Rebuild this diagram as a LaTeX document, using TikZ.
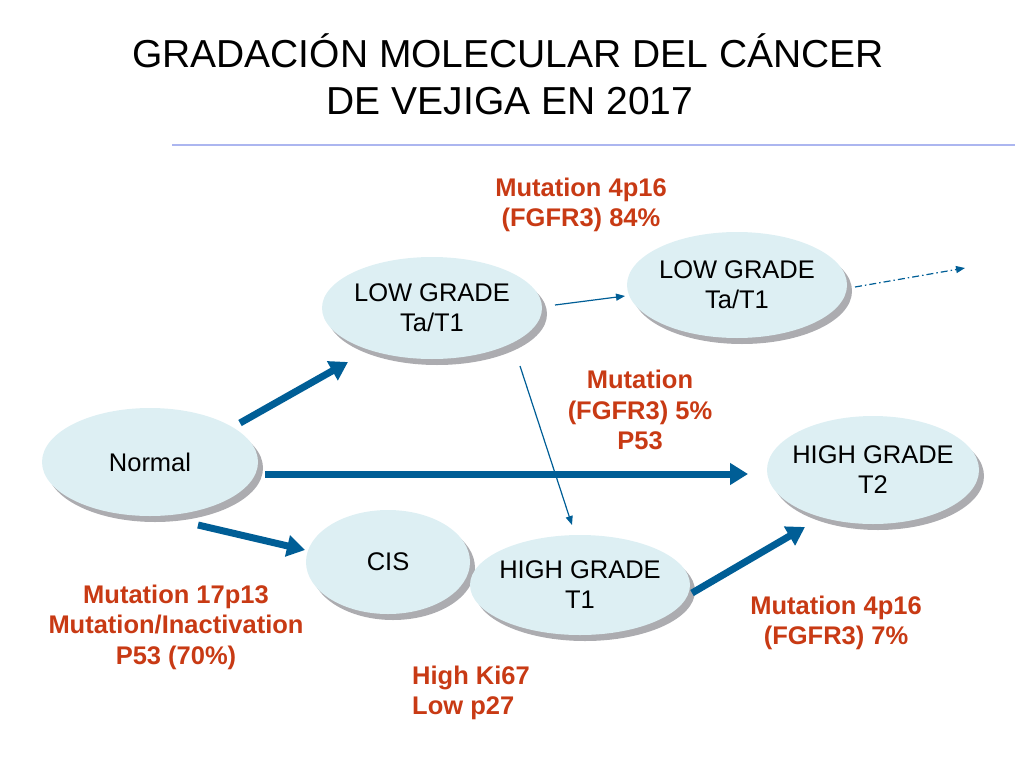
\documentclass[tikz,border=0pt]{standalone}
\usepackage{fontspec}
\setmainfont{Liberation Sans}
\usetikzlibrary{shapes.geometric,arrows.meta,shadows,calc}
\definecolor{ovalfill}{RGB}{221,239,243}
\definecolor{shadowgray}{RGB}{172,172,176}
\definecolor{arrowblue}{RGB}{0,94,150}
\definecolor{labelred}{RGB}{200,58,20}
\definecolor{rulecol}{RGB}{172,182,240}
\tikzset{
  oval/.style={ellipse, fill=ovalfill, inner xsep=-12pt, inner ysep=-4pt, align=center,
    font=\fontsize{25.5}{30}\selectfont,
    general shadow={fill=shadowgray, shadow xshift=5pt, shadow yshift=-6pt}},
  biglink/.style={draw=arrowblue, line width=7pt,
    -{Triangle[length=18pt,width=21pt]}},
  thinlink/.style={draw=arrowblue, line width=1.2pt,
    -{Triangle[length=9pt,width=7pt]}},
  dashlink/.style={thinlink, dash pattern=on 7pt off 3pt on 1.5pt off 3pt},
  redlabel/.style={text=labelred, align=center,
    font=\fontsize{25.5}{30.5}\selectfont\bfseries, inner sep=0pt},
  titletext/.style={font=\fontsize{39}{46}\selectfont, inner sep=0pt, anchor=base},
}
\begin{document}
\begin{tikzpicture}[x=1pt,y=-1pt]
\useasboundingbox (0,0) rectangle (1024,768);
% title
\node[titletext] (title1) at (508,67) {GRADACIÓN MOLECULAR DEL CÁNCER};
\node[titletext] (title2) at (510,114) {DE VEJIGA EN 2017};
\draw[rulecol, line width=2pt] (172,145) -- (1015,145);
% nodes
\node[oval, minimum width=216pt, minimum height=108pt] (normal) at (150,462) {Normal};
\node[oval, minimum width=220pt, minimum height=102pt] (low1) at (432,308) {LOW GRADE\\Ta/T1};
\node[oval, minimum width=220pt, minimum height=106pt] (low2) at (737,285) {LOW GRADE\\Ta/T1};
\node[oval, minimum width=212pt, minimum height=108pt] (ht2) at (873,470) {HIGH GRADE\\T2};
\node[oval, minimum width=164pt, minimum height=104pt] (cis) at (388,562) {CIS};
\node[oval, minimum width=220pt, minimum height=100pt] (ht1) at (580,585) {HIGH GRADE\\T1};
% labels
\node[redlabel] (lab1) at (581,205) {Mutation 4p16\\(FGFR3) 84\%};
\node[redlabel] (lab2) at (640,410) {Mutation\\(FGFR3) 5\%\\P53};
\node[redlabel] (lab3) at (176,627) {Mutation 17p13\\Mutation/Inactivation\\P53 (70\%)};
\node[redlabel] (lab4) at (836,623) {Mutation 4p16\\(FGFR3) 7\%};
\node[redlabel, align=left, anchor=west] (lab5) at (412,693) {High Ki67\\Low p27};
% connectors
\draw[biglink] ($(normal.center)+(90,-39)$) -- ($(low1.center)+(-84,54)$);
\draw[biglink] ($(normal.center)+(115,12)$) -- ($(ht2.center)+(-125,4)$);
\draw[biglink] ($(normal.center)+(48,63)$) -- ($(cis.center)+(-83,-12)$);
\draw[biglink] ($(ht1.center)+(112,8)$) -- ($(ht2.center)+(-68,57)$);
\draw[thinlink] ($(low1.center)+(123,-3)$) -- ($(low2.center)+(-112,11)$);
\draw[thinlink] ($(low1.center)+(88,58)$) -- ($(ht1.center)+(-8,-60)$);
\coordinate (onward) at (965,268);
\draw[dashlink] ($(low2.center)+(118,2)$) -- (onward);
\end{tikzpicture}
\end{document}
